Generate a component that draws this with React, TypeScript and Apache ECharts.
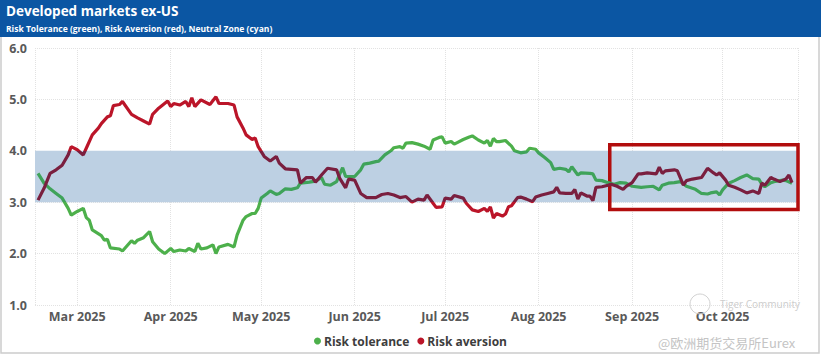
import React, { useEffect, useRef } from "react";
import * as echarts from "echarts";

const MONTHS = ["Jan", "Feb", "Mar", "Apr", "May", "Jun", "Jul", "Aug", "Sep", "Oct", "Nov", "Dec"];

const TITLE = "Developed markets ex-US";
const SUBTITLE = "Risk Tolerance (green), Risk Aversion (red), Neutral Zone (cyan)";
const WATERMARK_1 = "Tiger Community";
const WATERMARK_2 = "@欧洲期货交易所Eurex";

const AXIS_START = "2025-02-15";
const AXIS_END = "2025-10-26";
const Y_MIN = 1;
const Y_MAX = 6;
const Y_STEP = 1;
const NEUTRAL_LOW = 3;
const NEUTRAL_HIGH = 4;
const FOCUS_FROM = ["2025-08-24T14:00:00", 4.12];
const FOCUS_TO = ["2025-10-27T08:00:00", 2.86];

const toleranceDates = [
  "2025-02-16", "2025-02-18", "2025-02-20", "2025-02-22", "2025-02-24", "2025-02-26", "2025-02-27", "2025-03-01",
  "2025-03-03", "2025-03-04", "2025-03-05", "2025-03-06", "2025-03-09", "2025-03-10", "2025-03-11", "2025-03-12",
  "2025-03-15", "2025-03-16", "2025-03-19", "2025-03-20", "2025-03-21", "2025-03-23", "2025-03-25", "2025-03-26",
  "2025-03-28", "2025-03-30", "2025-04-01", "2025-04-02", "2025-04-04", "2025-04-06", "2025-04-07", "2025-04-09",
  "2025-04-10", "2025-04-11", "2025-04-13", "2025-04-15", "2025-04-16", "2025-04-17", "2025-04-20", "2025-04-22",
  "2025-04-23", "2025-04-25", "2025-04-26", "2025-04-28", "2025-04-29", "2025-04-30", "2025-05-01", "2025-05-03",
  "2025-05-04", "2025-05-06", "2025-05-07", "2025-05-09", "2025-05-11", "2025-05-13", "2025-05-14", "2025-05-17",
  "2025-05-19", "2025-05-21", "2025-05-22", "2025-05-24", "2025-05-26", "2025-05-27", "2025-05-28", "2025-05-29",
  "2025-05-30", "2025-06-01", "2025-06-03", "2025-06-04", "2025-06-06", "2025-06-08", "2025-06-09", "2025-06-11",
  "2025-06-13", "2025-06-14", "2025-06-16", "2025-06-17", "2025-06-18", "2025-06-20", "2025-06-22", "2025-06-24",
  "2025-06-26", "2025-06-27", "2025-06-29", "2025-06-30", "2025-07-01", "2025-07-03", "2025-07-04", "2025-07-05",
  "2025-07-07", "2025-07-09", "2025-07-10", "2025-07-12", "2025-07-14", "2025-07-15", "2025-07-16", "2025-07-17",
  "2025-07-18", "2025-07-19", "2025-07-21", "2025-07-23", "2025-07-24", "2025-07-26", "2025-07-28", "2025-07-29",
  "2025-07-31", "2025-08-01", "2025-08-03", "2025-08-05", "2025-08-06", "2025-08-08", "2025-08-10", "2025-08-11",
  "2025-08-12", "2025-08-14", "2025-08-15", "2025-08-18", "2025-08-19", "2025-08-20", "2025-08-22", "2025-08-24",
  "2025-08-26", "2025-08-28", "2025-08-30", "2025-09-01", "2025-09-04", "2025-09-06", "2025-09-08", "2025-09-10",
  "2025-09-11", "2025-09-13", "2025-09-15", "2025-09-17", "2025-09-19", "2025-09-20", "2025-09-22", "2025-09-24",
  "2025-09-26", "2025-09-27", "2025-09-29", "2025-09-30", "2025-10-01", "2025-10-03", "2025-10-05", "2025-10-07",
  "2025-10-09", "2025-10-11", "2025-10-13", "2025-10-14", "2025-10-15", "2025-10-17", "2025-10-18", "2025-10-21",
  "2025-10-22", "2025-10-24",
];
const toleranceValues = [
  3.56, 3.37, 3.26, 3.17, 3.08, 2.88, 2.75, 2.82,
  2.88, 2.70, 2.65, 2.46, 2.35, 2.26, 2.28, 2.11,
  2.09, 2.05, 2.25, 2.20, 2.26, 2.31, 2.43, 2.23,
  2.09, 2.00, 2.10, 2.04, 2.07, 2.05, 2.10, 2.04,
  2.20, 2.09, 2.11, 2.17, 2.00, 2.13, 2.18, 2.13,
  2.36, 2.65, 2.72, 2.78, 2.78, 2.88, 3.08, 3.17,
  3.22, 3.15, 3.17, 3.26, 3.25, 3.28, 3.37, 3.39,
  3.41, 3.48, 3.35, 3.33, 3.40, 3.54, 3.67, 3.50,
  3.50, 3.50, 3.63, 3.74, 3.76, 3.79, 3.80, 3.92,
  4.00, 4.06, 4.08, 4.05, 4.15, 4.16, 4.13, 4.09,
  4.03, 4.21, 4.26, 4.27, 4.15, 4.18, 4.13, 4.16,
  4.22, 4.27, 4.29, 4.21, 4.15, 4.20, 4.09, 4.24,
  4.18, 4.18, 4.20, 4.09, 4.00, 3.96, 3.98, 4.05,
  4.03, 3.96, 3.87, 3.77, 3.64, 3.66, 3.64, 3.59,
  3.69, 3.53, 3.57, 3.56, 3.55, 3.43, 3.42, 3.38,
  3.35, 3.38, 3.37, 3.31, 3.29, 3.30, 3.31, 3.24,
  3.33, 3.37, 3.38, 3.40, 3.31, 3.29, 3.25, 3.17,
  3.16, 3.18, 3.20, 3.14, 3.24, 3.37, 3.42, 3.48,
  3.53, 3.46, 3.45, 3.35, 3.30, 3.38, 3.40, 3.43,
  3.42, 3.37,
];

const aversionDates = [
  "2025-02-16", "2025-02-18", "2025-02-20", "2025-02-22", "2025-02-24", "2025-02-26", "2025-02-27", "2025-03-01",
  "2025-03-03", "2025-03-04", "2025-03-06", "2025-03-08", "2025-03-09", "2025-03-11", "2025-03-12", "2025-03-13",
  "2025-03-15", "2025-03-16", "2025-03-19", "2025-03-21", "2025-03-23", "2025-03-25", "2025-03-26", "2025-03-28",
  "2025-03-31", "2025-04-01", "2025-04-02", "2025-04-04", "2025-04-06", "2025-04-07", "2025-04-08", "2025-04-09",
  "2025-04-11", "2025-04-14", "2025-04-16", "2025-04-17", "2025-04-20", "2025-04-22", "2025-04-23", "2025-04-25",
  "2025-04-26", "2025-04-28", "2025-04-29", "2025-04-30", "2025-05-02", "2025-05-04", "2025-05-06", "2025-05-07",
  "2025-05-09", "2025-05-11", "2025-05-13", "2025-05-14", "2025-05-16", "2025-05-18", "2025-05-19", "2025-05-21",
  "2025-05-23", "2025-05-26", "2025-05-27", "2025-05-29", "2025-05-30", "2025-06-01", "2025-06-03", "2025-06-05",
  "2025-06-08", "2025-06-10", "2025-06-12", "2025-06-14", "2025-06-16", "2025-06-18", "2025-06-20", "2025-06-22",
  "2025-06-24", "2025-06-25", "2025-06-27", "2025-06-28", "2025-06-30", "2025-07-01", "2025-07-03", "2025-07-04",
  "2025-07-07", "2025-07-08", "2025-07-10", "2025-07-12", "2025-07-14", "2025-07-15", "2025-07-16", "2025-07-17",
  "2025-07-18", "2025-07-20", "2025-07-21", "2025-07-22", "2025-07-23", "2025-07-25", "2025-07-26", "2025-07-28",
  "2025-07-30", "2025-07-31", "2025-08-02", "2025-08-04", "2025-08-06", "2025-08-07", "2025-08-08", "2025-08-10",
  "2025-08-12", "2025-08-13", "2025-08-14", "2025-08-15", "2025-08-17", "2025-08-18", "2025-08-19", "2025-08-20",
  "2025-08-22", "2025-08-24", "2025-08-25", "2025-08-27", "2025-08-29", "2025-08-30", "2025-09-01", "2025-09-03",
  "2025-09-04", "2025-09-06", "2025-09-09", "2025-09-10", "2025-09-11", "2025-09-12", "2025-09-15", "2025-09-16",
  "2025-09-18", "2025-09-19", "2025-09-21", "2025-09-24", "2025-09-26", "2025-09-28", "2025-09-29", "2025-09-30",
  "2025-10-02", "2025-10-03", "2025-10-05", "2025-10-07", "2025-10-09", "2025-10-11", "2025-10-13", "2025-10-14",
  "2025-10-15", "2025-10-17", "2025-10-18", "2025-10-20", "2025-10-22", "2025-10-23", "2025-10-24",
];
const aversionValues = [
  3.04, 3.27, 3.56, 3.63, 3.72, 3.92, 4.08, 4.02,
  3.92, 4.05, 4.31, 4.44, 4.53, 4.66, 4.68, 4.88,
  4.90, 4.96, 4.71, 4.64, 4.58, 4.52, 4.71, 4.83,
  4.97, 4.86, 4.92, 4.89, 4.96, 4.86, 5.03, 4.86,
  4.99, 4.90, 5.05, 4.92, 4.92, 4.89, 4.66, 4.44,
  4.31, 4.22, 4.25, 4.08, 3.89, 3.80, 3.89, 3.76,
  3.65, 3.64, 3.63, 3.37, 3.48, 3.48, 3.39, 3.53,
  3.66, 3.63, 3.47, 3.28, 3.45, 3.43, 3.17, 3.09,
  3.09, 3.15, 3.17, 3.14, 3.09, 3.11, 3.00, 3.06,
  3.04, 3.14, 2.98, 2.90, 2.91, 3.08, 3.06, 3.13,
  3.08, 2.98, 2.85, 2.82, 2.88, 2.82, 2.91, 2.69,
  2.78, 2.73, 2.77, 2.91, 2.93, 3.09, 3.10, 3.06,
  3.01, 3.10, 3.14, 3.17, 3.20, 3.29, 3.18, 3.17,
  3.17, 3.25, 3.06, 3.18, 3.12, 3.12, 3.03, 3.29,
  3.30, 3.33, 3.35, 3.31, 3.25, 3.31, 3.38, 3.55,
  3.55, 3.57, 3.55, 3.68, 3.56, 3.61, 3.63, 3.61,
  3.33, 3.42, 3.45, 3.48, 3.66, 3.57, 3.53, 3.57,
  3.43, 3.33, 3.29, 3.24, 3.18, 3.22, 3.17, 3.37,
  3.33, 3.48, 3.45, 3.40, 3.45, 3.53, 3.38,
];

const GREEN = "#4db04b";
const GREEN_IN = "#3fa35a";
const RED = "#bb1529";
const RED_IN = "#7a1f3f";
const BAND = "#bdd0e3";
const LABEL = "#595959";
const FONT = "'Open Sans', 'Noto Sans', sans-serif";

function parseLocal(s: string): number {
  const [datePart, timePart] = s.split("T");
  const [y, m, d] = datePart.split("-").map(Number);
  let hh = 0;
  let mm = 0;
  if (timePart) {
    const t = timePart.split(":").map(Number);
    hh = t[0];
    mm = t[1];
  }
  return new Date(y, m - 1, d, hh, mm).getTime();
}

function zip(dates: string[], values: number[]) {
  return dates.map((d, i) => [parseLocal(d), values[i]]);
}

export default function App() {
  const ref = useRef<HTMLDivElement>(null);

  useEffect(() => {
    document.body.style.margin = "0";
    if (!ref.current) return;
    const chart = echarts.init(ref.current, undefined, { renderer: "svg" });

    const option: any = {
      animation: false,
      backgroundColor: "#ffffff",
      grid: { left: 35, right: 23, top: 48, bottom: 50, containLabel: false },
      xAxis: {
        type: "time",
        min: parseLocal(AXIS_START),
        max: parseLocal(AXIS_END),
        splitNumber: 9,
        axisLine: { show: false },
        axisTick: { show: false },
        axisLabel: {
          color: LABEL,
          fontSize: 12.5,
          fontWeight: "bold",
          fontFamily: FONT,
          margin: 5,
          showMinLabel: false,
          showMaxLabel: false,
          formatter: (val: number) => {
            const d = new Date(val);
            if (d.getDate() !== 1) return "";
            return MONTHS[d.getMonth()] + " " + d.getFullYear();
          },
        },
        splitLine: { show: true, lineStyle: { type: "dotted", color: "#e2e2e2", width: 1 } },
      },
      yAxis: {
        type: "value",
        min: Y_MIN,
        max: Y_MAX,
        interval: Y_STEP,
        axisLine: { show: false },
        axisTick: { show: false },
        axisLabel: {
          color: LABEL,
          fontSize: 12.5,
          fontWeight: "bold",
          fontFamily: FONT,
          margin: 8,
          formatter: (v: number) => v.toFixed(1),
        },
        splitLine: { show: true, lineStyle: { type: "dotted", color: "#e2e2e2", width: 1 } },
      },
      legend: {
        data: ["Risk tolerance", "Risk aversion"],
        top: 330,
        left: "center",
        icon: "circle",
        itemWidth: 7,
        itemHeight: 7,
        itemGap: 8,
        textStyle: { color: "#3d3d3d", fontSize: 12, fontWeight: "bold", fontFamily: FONT, padding: [0, 0, 0, -2] },
      },
      visualMap: [
        {
          show: false,
          type: "piecewise",
          seriesIndex: 1,
          dimension: 1,
          pieces: [
            { lt: NEUTRAL_LOW, color: GREEN },
            { gte: NEUTRAL_LOW, lte: NEUTRAL_HIGH, color: GREEN_IN },
            { gt: NEUTRAL_HIGH, color: GREEN },
          ],
        },
        {
          show: false,
          type: "piecewise",
          seriesIndex: 2,
          dimension: 1,
          pieces: [
            { lt: NEUTRAL_LOW, color: RED },
            { gte: NEUTRAL_LOW, lte: NEUTRAL_HIGH, color: RED_IN },
            { gt: NEUTRAL_HIGH, color: RED },
          ],
        },
      ],
      series: [
        {
          name: "Neutral zone",
          type: "line",
          data: [],
          z: 1,
          silent: true,
          markArea: {
            silent: true,
            itemStyle: { color: BAND },
            data: [[{ yAxis: NEUTRAL_LOW }, { yAxis: NEUTRAL_HIGH }]],
          },
        },
        {
          name: "Risk tolerance",
          type: "line",
          data: zip(toleranceDates, toleranceValues),
          showSymbol: false,
          symbol: "circle",
          lineStyle: { width: 3.2 },
          itemStyle: { color: GREEN },
          z: 3,
        },
        {
          name: "Risk aversion",
          type: "line",
          data: zip(aversionDates, aversionValues),
          showSymbol: false,
          symbol: "circle",
          lineStyle: { width: 3.2 },
          itemStyle: { color: RED },
          z: 4,
        },
        {
          name: "Focus",
          type: "line",
          data: [],
          z: 6,
          clip: false,
          silent: true,
          markArea: {
            silent: true,
            itemStyle: { color: "rgba(0,0,0,0)", borderColor: "#b20d0d", borderWidth: 3.5 },
            data: [
              [
                { xAxis: parseLocal(FOCUS_FROM[0] as string), yAxis: FOCUS_FROM[1] },
                { xAxis: parseLocal(FOCUS_TO[0] as string), yAxis: FOCUS_TO[1] },
              ],
            ],
          },
        },
      ],
      graphic: [
        {
          type: "rect",
          shape: { x: 0, y: 0, width: 821, height: 37 },
          style: { fill: "#0b56a3" },
          z: 10,
        },
        {
          type: "rect",
          shape: { x: 1, y: 0, width: 818, height: 353 },
          style: { fill: "none", stroke: "#cccccc", lineWidth: 1.5 },
          z: 9,
          silent: true,
        },
        {
          type: "text",
          x: 6,
          y: 11,
          z: 11,
          style: {
            text: TITLE,
            fill: "#ffffff",
            font: `bold 13.5px ${FONT}`,
            textVerticalAlign: "middle",
          },
        },
        {
          type: "text",
          x: 6,
          y: 28,
          z: 11,
          style: {
            text: SUBTITLE,
            fill: "#ffffff",
            font: `bold 8.5px ${FONT}`,
            textVerticalAlign: "middle",
          },
        },
        {
          type: "circle",
          shape: { cx: 700, cy: 304, r: 10 },
          style: { fill: "none", stroke: "#d2d2d2", lineWidth: 1 },
          z: 11,
          silent: true,
        },
        {
          type: "text",
          x: 720,
          y: 304,
          z: 11,
          style: {
            text: WATERMARK_1,
            fill: "#cdcdcd",
            font: `10px ${FONT}`,
            textVerticalAlign: "middle",
          },
        },
        {
          type: "text",
          x: 658,
          y: 342,
          z: 11,
          style: {
            text: WATERMARK_2,
            fill: "#c4c4c4",
            font: `13px 'Noto Sans CJK SC', 'Noto Sans', sans-serif`,
            textVerticalAlign: "middle",
          },
        },
      ],
    };

    chart.setOption(option);
    return () => {
      chart.dispose();
    };
  }, []);

  return <div ref={ref} style={{ width: 821, height: 355 }} />;
}
